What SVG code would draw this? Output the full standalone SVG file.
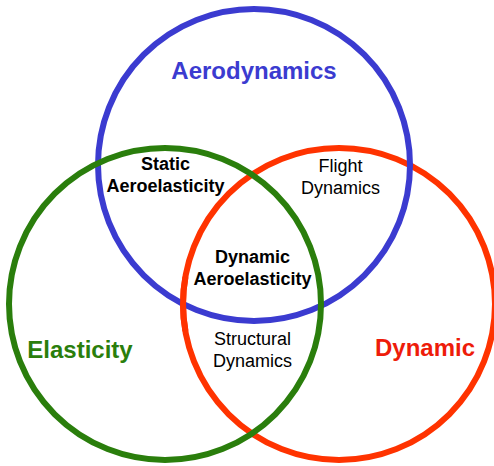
<svg xmlns="http://www.w3.org/2000/svg" width="494" height="466" viewBox="0 0 494 466">
<style>
.c{fill:none;stroke-width:6}
.t{font-family:"Liberation Sans",Arial,sans-serif;text-anchor:middle}
.b{font-weight:bold}
.s{font-size:18px;fill:#000}
.big{font-size:24px;font-weight:bold}
</style>
<rect width="494" height="466" fill="#ffffff"/>
<g id="dynamic">
<circle class="c" cx="339" cy="304" r="156" stroke="#ff3300"/>
<text class="t big" x="425" y="356" fill="#ee1c0a">Dynamic</text>
</g>
<g id="aerodynamics">
<circle class="c" cx="254" cy="165" r="156" stroke="#3b3bd0"/>
<text class="t big" x="254" y="79" fill="#3b3bd0">Aerodynamics</text>
</g>
<path class="c" stroke="#ff3300" d="M185.4,276.9 A156,156 0 0 0 185.4,331.1"/>
<g id="elasticity">
<circle class="c" cx="165" cy="304" r="156" stroke="#2a7e0c"/>
<text class="t big" x="80" y="358" fill="#2a7e0c">Elasticity</text>
</g>
<g id="static-aeroelasticity">
<text class="t b s" x="165.5" y="170">Static</text>
<text class="t b s" x="165.5" y="192">Aeroelasticity</text>
</g>
<g id="flight-dynamics">
<text class="t s" x="340.5" y="172">Flight</text>
<text class="t s" x="340.5" y="194">Dynamics</text>
</g>
<g id="dynamic-aeroelasticity">
<text class="t b s" x="252.5" y="263">Dynamic</text>
<text class="t b s" x="252.5" y="285">Aeroelasticity</text>
</g>
<g id="structural-dynamics">
<text class="t s" x="252.5" y="345">Structural</text>
<text class="t s" x="252.5" y="367">Dynamics</text>
</g>
</svg>
